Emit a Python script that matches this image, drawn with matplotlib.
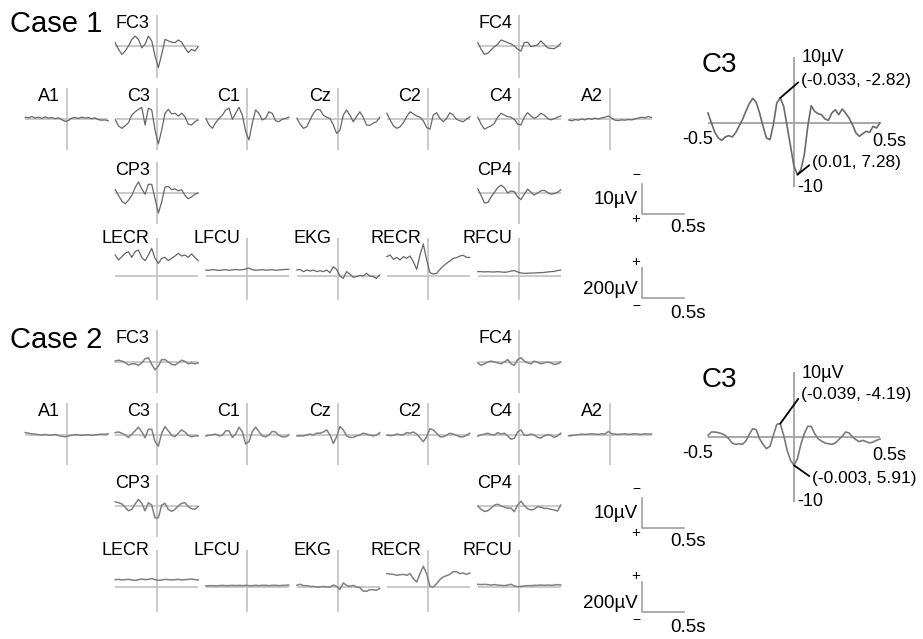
import numpy as np
import matplotlib
matplotlib.use('Agg')
import matplotlib.pyplot as plt

plt.rcParams['font.family'] = ['Liberation Sans', 'DejaVu Sans']

# ---- data (uV, 26 samples from -0.5 s to 0.5 s; EEG negative up) ----
# Case 1
c1_fc3 = [-1.1, 1.1, 2.8, 1.7, 0.0, -2.2, -3.3, -2.2, 0.6, -0.6, -3.3, -1.7, 3.3, 7.2, 2.8, -2.2, -1.7, -1.3, -1.1, -2.0, -1.3, 0.6, 2.2, 1.1, 1.7, 0.2]
c1_fc4 = [-1.1, 1.1, 2.8, 2.4, 1.3, 0.2, -0.6, -2.0, -1.6, -1.1, -0.7, 0.0, 1.1, 1.7, -1.1, -1.3, 0.2, 0.0, -0.4, -1.7, -0.6, 0.6, 0.8, 0.9, 0.2, -0.9]
c1_a1 = [-0.6, -0.4, -0.8, -0.3, -0.6, -0.2, -0.7, -0.3, -0.5, -0.1, -0.4, 0.2, 0.8, 0.5, -0.3, -0.5, -0.2, -0.6, -0.3, -0.5, -0.1, -0.4, 0.2, 0.4, 0.3, 0.6]
c1_c3 = [0.3, 2.3, 3.1, 2.3, 1.2, -1.3, -2.4, -3.2, -3.9, 2.0, -3.6, -3.0, 3.7, 8.3, 3.7, -1.9, -3.2, -1.7, -1.9, -1.0, -1.9, -0.8, 1.7, 2.0, 0.9, 0.3]
c1_c1 = [-0.2, 2.0, 3.1, 1.2, -0.2, -1.3, -3.0, -3.6, 0.1, -1.9, -3.9, -1.3, 4.2, 7.0, 1.4, -3.0, -1.9, 0.3, -0.2, -2.4, -1.9, 0.6, 0.9, 0.1, -0.2, -0.6]
c1_cz = [-0.2, 1.7, 3.1, 2.6, 0.3, -1.9, -3.2, -3.0, -1.3, -0.6, -0.2, 2.0, 4.8, 3.7, -1.3, -3.0, -1.3, 0.9, -0.8, -2.4, -0.6, 2.0, 2.1, 1.4, 0.9, -0.6]
c1_c2 = [-1.9, 0.3, 2.3, 3.1, 2.6, 1.2, -0.8, -2.4, -1.7, -1.0, -0.6, 0.6, 2.8, 3.4, -1.3, -2.1, -0.2, 0.9, -0.2, -2.1, -1.3, 0.1, 0.6, 0.9, 0.1, -0.8]
c1_c4 = [-0.6, 1.7, 3.4, 2.8, 2.3, 1.4, -0.6, -1.9, -1.3, -0.8, -0.6, 0.1, 1.7, 2.0, -0.6, -2.1, -1.0, -0.2, -0.8, -1.9, -1.3, -0.2, 0.3, -0.1, -0.6, -1.0]
c1_a2 = [0.3, 0.6, 0.2, 0.4, 0.0, 0.3, -0.2, 0.1, -0.3, 0.0, -0.4, -0.6, -1.0, -0.3, 0.4, 0.5, 0.3, 0.4, 0.2, 0.3, 0.0, -0.3, -0.6, -0.4, -0.8, -0.5]
c1_cp3 = [-1.1, 0.8, 2.7, 3.6, 2.4, 0.8, -1.8, -3.7, -1.4, 0.4, -2.9, -2.9, 1.9, 6.7, 3.0, -2.0, -2.2, -1.1, -1.4, -0.7, -1.1, 0.8, 1.9, 1.3, 0.4, 0.0]
c1_cp4 = [-1.4, 0.8, 3.3, 3.2, 1.3, -0.2, -1.8, -2.6, -1.8, 0.0, -0.7, -0.4, 1.3, 2.2, 0.4, -1.3, -0.3, 0.7, 0.0, -0.7, -0.9, -0.2, 0.4, 0.2, -0.2, -1.1]
c1_lecr = [140, 107, 129, 151, 162, 124, 162, 173, 124, 102, 140, 184, 118, 84, 118, 124, 102, 118, 133, 151, 133, 140, 124, 147, 124, 102]
c1_lfcu = [40, 38, 42, 40, 37, 40, 42, 38, 40, 44, 40, 42, 47, 53, 42, 38, 40, 42, 39, 40, 42, 38, 40, 42, 44, 45]
c1_ekg = [40, 44, 29, 40, 33, 40, 29, 36, 29, 40, 22, 62, 44, 0, -16, 29, 13, -9, -4, 4, 0, 18, 0, -4, -16, 7]
c1_recr = [129, 140, 111, 124, 107, 129, 118, 133, 96, 44, 140, 213, 107, 22, 13, 18, 44, 67, 84, 100, 118, 122, 133, 138, 124, 124]
c1_rfcu = [29, 29, 27, 29, 27, 27, 29, 27, 25, 27, 33, 36, 27, 20, 18, 18, 20, 20, 22, 22, 24, 27, 29, 31, 36, 40]

# Case 2
c2_fc3 = [-0.3, -0.6, -0.3, 0.2, 1.0, 0.6, 0.6, 1.1, 0.3, -1.1, -1.4, 0.8, 2.6, 1.4, -0.8, -0.8, 0.0, 0.8, 1.0, 0.3, -0.6, -0.2, 0.6, 0.3, 0.6, 0.3]
c2_fc4 = [0.3, 1.1, 0.6, 0.0, -0.3, 0.0, 0.3, 0.6, 0.0, -0.8, 0.6, 1.1, -0.8, -1.4, -0.3, 0.3, 0.6, -0.3, 0.1, 0.6, 0.3, 0.0, 0.3, 0.8, 0.6, 0.0]
c2_a1 = [-0.8, -0.6, -0.4, -0.3, -0.1, 0.0, -0.2, 0.1, 0.0, -0.2, 0.2, 0.4, 0.6, 0.3, 0.1, -0.1, 0.0, 0.1, 0.0, -0.1, 0.1, 0.0, -0.2, -0.3, -0.2, -0.4]
c2_c3 = [-0.8, -1.0, -0.6, 0.0, 0.8, -0.3, -1.4, -2.6, -1.1, 0.9, -1.9, -1.9, 2.2, 3.7, -0.6, -2.8, -1.4, 0.1, 0.6, -0.6, -1.7, -1.0, 0.1, 0.6, 0.3, 0.3]
c2_c1 = [0.3, 0.1, -0.1, -0.3, 0.3, 0.1, -1.4, -1.4, 0.8, -0.3, -2.6, -1.1, 3.0, 2.2, -1.1, -2.6, -1.1, 0.3, 0.6, 0.0, -1.2, -1.0, 0.1, 0.6, 0.6, 0.0]
c2_cz = [0.3, 0.3, 0.3, 0.0, -0.3, 0.0, -0.6, -0.6, -1.0, -1.7, 0.0, 2.8, 0.6, -2.8, -1.7, 0.3, 0.8, 0.8, 0.3, 0.0, -0.6, -0.3, 0.0, 0.3, 0.0, -0.8]
c2_c2 = [0.0, 0.2, 0.1, -0.3, -0.1, -0.1, -0.8, -0.6, -1.0, -0.3, 0.9, 2.2, 0.6, -2.1, -1.7, -0.6, 0.6, 0.6, 0.1, -0.6, -0.3, 0.1, 0.6, 0.6, 0.1, -0.6]
c2_c4 = [0.3, 0.0, -0.3, -0.6, -0.1, 0.0, -0.8, -0.3, -0.6, 0.3, 1.4, 1.1, -1.0, -1.7, 0.1, 0.1, -0.3, 0.0, 0.8, 1.0, 0.3, -0.1, 0.1, 0.8, 0.3, -0.6]
c2_a2 = [0.3, 0.2, 0.0, -0.1, -0.3, -0.2, -0.3, -0.4, -0.3, -0.2, -0.4, -0.3, -1.2, -0.4, -0.3, -0.2, -0.3, -0.4, -0.2, -0.3, -0.4, -0.3, -0.2, -0.4, -0.3, -0.3]
c2_cp3 = [-1.4, -1.1, -0.7, 0.4, 1.6, 1.1, -0.7, -2.2, -0.9, 1.6, -1.1, -0.3, 4.0, 3.9, -0.3, -0.9, 1.1, 1.8, 1.1, 0.0, -0.9, -1.1, 0.2, 0.9, 1.1, 0.2]
c2_cp4 = [0.0, 1.1, 1.8, 1.6, 0.7, -0.3, -0.6, 0.0, 0.4, 0.7, 0.7, 1.9, -0.3, -1.6, -0.2, 0.9, 1.3, 1.1, 0.2, 0.4, 0.8, 0.8, 1.1, 1.3, 1.7, -0.3]
c2_lecr = [49, 51, 47, 49, 51, 47, 44, 49, 53, 49, 51, 56, 49, 44, 47, 51, 49, 47, 49, 51, 47, 49, 51, 53, 49, 47]
c2_lfcu = [7, 9, 9, 7, 9, 11, 9, 9, 11, 9, 11, 9, 11, 9, 9, 11, 9, 11, 11, 9, 11, 11, 9, 11, 11, 13]
c2_ekg = [11, 18, 9, 9, 4, 4, 0, 0, 4, 0, 0, 13, 4, -16, 27, 11, 4, 11, 0, -4, -27, -29, -18, -18, -22, -9]
c2_recr = [89, 87, 84, 78, 82, 84, 78, 89, 56, 33, 89, 138, 89, 4, 0, 22, 49, 67, 76, 84, 102, 102, 89, 93, 84, 93]
c2_rfcu = [18, 16, 18, 16, 13, 16, 13, 11, 9, 13, 18, 7, 2, 4, 7, 9, 9, 11, 11, 13, 11, 13, 11, 13, 16, 13]

# enlarged C3 (51 samples from -0.5 s to 0.5 s)
big1_c3 = [-1.54, 0.0, 1.44, 2.31, 2.67, 2.15, 1.95, 2.15, 1.54, 0.51, -0.51, -1.79, -2.97, -3.79, -3.18, -1.54, 0.51, 2.31, 2.56, 0.26,
           -3.08, -3.85, -2.56, 0.51, 3.59, 6.67, 7.95, 7.18, 4.87, 0.51, -2.67, -1.79, -1.44, -1.28, -0.62, -0.41, -1.54, -2.05, -1.28, -2.15,
           -1.54, -0.77, 0.26, 1.54, 2.05, 1.64, 1.28, 1.44, 0.51, 0.77, 0.0]
big2_c3 = [-0.26, -0.77, -0.77, -0.67, -0.51, -0.26, 0.26, 0.92, 1.13, 1.03, 1.13, 0.62, -0.41, -1.28, -1.13, 0.26, 1.13, 1.79, 1.44, -0.26,
           -1.95, -2.05, -0.26, 2.05, 3.59, 4.36, 3.33, 1.13, -0.51, -1.64, -1.64, -0.51, 0.26, 0.62, 0.92, 1.03, 1.13, 0.92, 0.41, -0.10,
           -0.77, -0.62, 0.0, 0.41, 0.72, 0.51, 0.72, 0.92, 0.77, 0.51, 0.31]
big1_notes = ['(-0.033, -2.82)', '(0.01, 7.28)']
big2_notes = ['(-0.039, -4.19)', '(-0.003, 5.91)']

# ---- layout in pixels ----
W, H = 923, 639
fig = plt.figure(figsize=(W / 100, H / 100), dpi=100)

def box(x0, y0, w, h):
    return [x0 / W, 1 - (y0 + h) / H, w / W, h / H]

def ptext(x, y, s, **kw):
    fig.text(x / W, 1 - y / H, s, **kw)

cols = [66.7, 156.7, 247.3, 338.3, 428.3, 519.3, 610.0]
axis_col = '#c6c6c6'

def panel(cx, row, vals, label, color, lw, emg=False):
    vtop, base, vbot = row
    ax = fig.add_axes(box(cx - 41.5, vtop, 83, vbot - vtop))
    if emg:
        k = 0.15
        ax.set_ylim(-(vbot - base) / k, (base - vtop) / k)
    else:
        k = 3.0
        ax.set_ylim((vbot - base) / k, -(base - vtop) / k)
    ax.set_xlim(-0.5, 0.5)
    ax.axis('off')
    ax.axvline(0, color=axis_col, lw=1.3, zorder=1)
    ax.axhline(0, color=axis_col, lw=1.3, zorder=1)
    t = np.linspace(-0.5, 0.5, len(vals))
    ax.plot(t, vals, color=color, lw=lw, clip_on=False, zorder=2)
    ptext(cx - 7, vtop + (5 if emg else 13), label, ha='right', va='baseline', fontsize=13)

def scale_bars(y_eeg, y_emg):
    # 10 uV / 0.5 s (negative up)
    ax = fig.add_axes(box(642, y_eeg, 41.5, 30))
    ax.set_xlim(0, 0.5); ax.set_ylim(0, 10); ax.axis('off')
    ax.plot([0, 0, 0.5], [10, 0, 0], color='#a0a0a0', lw=1.2, clip_on=False)
    ptext(636, y_eeg - 9, '\u2212', ha='center', va='center', fontsize=10)
    ptext(638, y_eeg + 15, '10\u00b5V', ha='right', va='center', fontsize=13.5)
    ptext(636, y_eeg + 35, '+', ha='center', va='center', fontsize=11)
    ptext(670, y_eeg + 44, '0.5s', ha='left', va='center', fontsize=13.5)
    # 200 uV / 0.5 s (positive up)
    ax = fig.add_axes(box(642, y_emg, 41.5, 30))
    ax.set_xlim(0, 0.5); ax.set_ylim(0, 200); ax.axis('off')
    ax.plot([0, 0, 0.5], [200, 0, 0], color='#a0a0a0', lw=1.2, clip_on=False)
    ptext(636, y_emg - 6, '+', ha='center', va='center', fontsize=11)
    ptext(638, y_emg + 22, '200\u00b5V', ha='right', va='center', fontsize=13.5)
    ptext(636, y_emg + 38, '\u2212', ha='center', va='center', fontsize=10)
    ptext(670, y_emg + 45, '0.5s', ha='left', va='center', fontsize=13.5)

def big_panel(vtop, base, vbot, vals, notes, color):
    k = 6.5
    ax = fig.add_axes(box(708, vtop, 172, vbot - vtop))
    ax.set_xlim(-0.5, 0.5)
    ax.set_ylim((vbot - base) / k, -(base - vtop) / k)
    ax.axis('off')
    ax.axvline(0, color='#a8a8a8', lw=1.4, zorder=1)
    ax.axhline(0, color='#a8a8a8', lw=1.4, zorder=1)
    t = np.linspace(-0.5, 0.5, len(vals))
    ax.plot(t, vals, color=color, lw=1.2, clip_on=False, zorder=2)
    v = np.array(vals)
    i_pk = int(np.argmin(v[15:25])) + 15
    i_tr = int(np.argmax(v[20:30])) + 20
    ptext(702, vtop + 15, 'C3', ha='left', va='baseline', fontsize=20)
    ptext(802, vtop + 1, '10\u00b5V', ha='left', va='center', fontsize=13)
    ptext(713, base + 16, '-0.5', ha='right', va='center', fontsize=13)
    ptext(872, base + 19, '0.5s', ha='left', va='center', fontsize=13)
    ptext(797, vbot, '-10', ha='left', va='center', fontsize=13)
    ax.annotate(notes[0], xy=(t[i_pk], v[i_pk]), xytext=(801, H - (vtop + 23)),
                textcoords='figure pixels', ha='left', va='center', fontsize=12.5,
                arrowprops=dict(arrowstyle='-', color='black', lw=1.3,
                                shrinkA=0, shrinkB=0, relpos=(0, 0.5)))
    ax.annotate(notes[1], xy=(t[i_tr], v[i_tr]), xytext=(812, H - (vtop + 106)),
                textcoords='figure pixels', ha='left', va='center', fontsize=12.5,
                arrowprops=dict(arrowstyle='-', color='black', lw=1.3,
                                shrinkA=0, shrinkB=0, relpos=(0, 0.5)))

def case(rows, data, title, ytitle, color, lw):
    fc, main, cp, emg = rows
    ptext(10, ytitle, title, ha='left', va='baseline', fontsize=21)
    panel(cols[1], fc, data['FC3'], 'FC3', color, lw)
    panel(cols[5], fc, data['FC4'], 'FC4', color, lw)
    for c, name in enumerate(['A1', 'C3', 'C1', 'Cz', 'C2', 'C4', 'A2']):
        panel(cols[c], main, data[name], name, color, lw)
    panel(cols[1], cp, data['CP3'], 'CP3', color, lw)
    panel(cols[5], cp, data['CP4'], 'CP4', color, lw)
    for c, name in enumerate(['LECR', 'LFCU', 'EKG', 'RECR', 'RFCU']):
        panel(cols[c + 1], emg, data[name], name, color, lw, emg=True)

case1 = {'FC3': c1_fc3, 'FC4': c1_fc4, 'A1': c1_a1, 'C3': c1_c3, 'C1': c1_c1, 'Cz': c1_cz,
         'C2': c1_c2, 'C4': c1_c4, 'A2': c1_a2, 'CP3': c1_cp3, 'CP4': c1_cp4,
         'LECR': c1_lecr, 'LFCU': c1_lfcu, 'EKG': c1_ekg, 'RECR': c1_recr, 'RFCU': c1_rfcu}
case2 = {'FC3': c2_fc3, 'FC4': c2_fc4, 'A1': c2_a1, 'C3': c2_c3, 'C1': c2_c1, 'Cz': c2_cz,
         'C2': c2_c2, 'C4': c2_c4, 'A2': c2_a2, 'CP3': c2_cp3, 'CP4': c2_cp4,
         'LECR': c2_lecr, 'LFCU': c2_lfcu, 'EKG': c2_ekg, 'RECR': c2_recr, 'RFCU': c2_rfcu}

case([(15, 46, 78), (88, 119, 150), (162, 193, 224), (238, 276, 300)],
     case1, 'Case 1', 32, '#666666', 0.9)
case([(330, 362, 393), (403, 435, 465), (475, 506, 537), (550, 587, 612)],
     case2, 'Case 2', 348, '#808080', 1.1)

scale_bars(184, 268)
scale_bars(498, 582)

big_panel(57, 123, 187, big1_c3, big1_notes, '#6a6a6a')
big_panel(372, 437, 502, big2_c3, big2_notes, '#7a7a7a')

fig.savefig('out.png', dpi=100, facecolor='white')
